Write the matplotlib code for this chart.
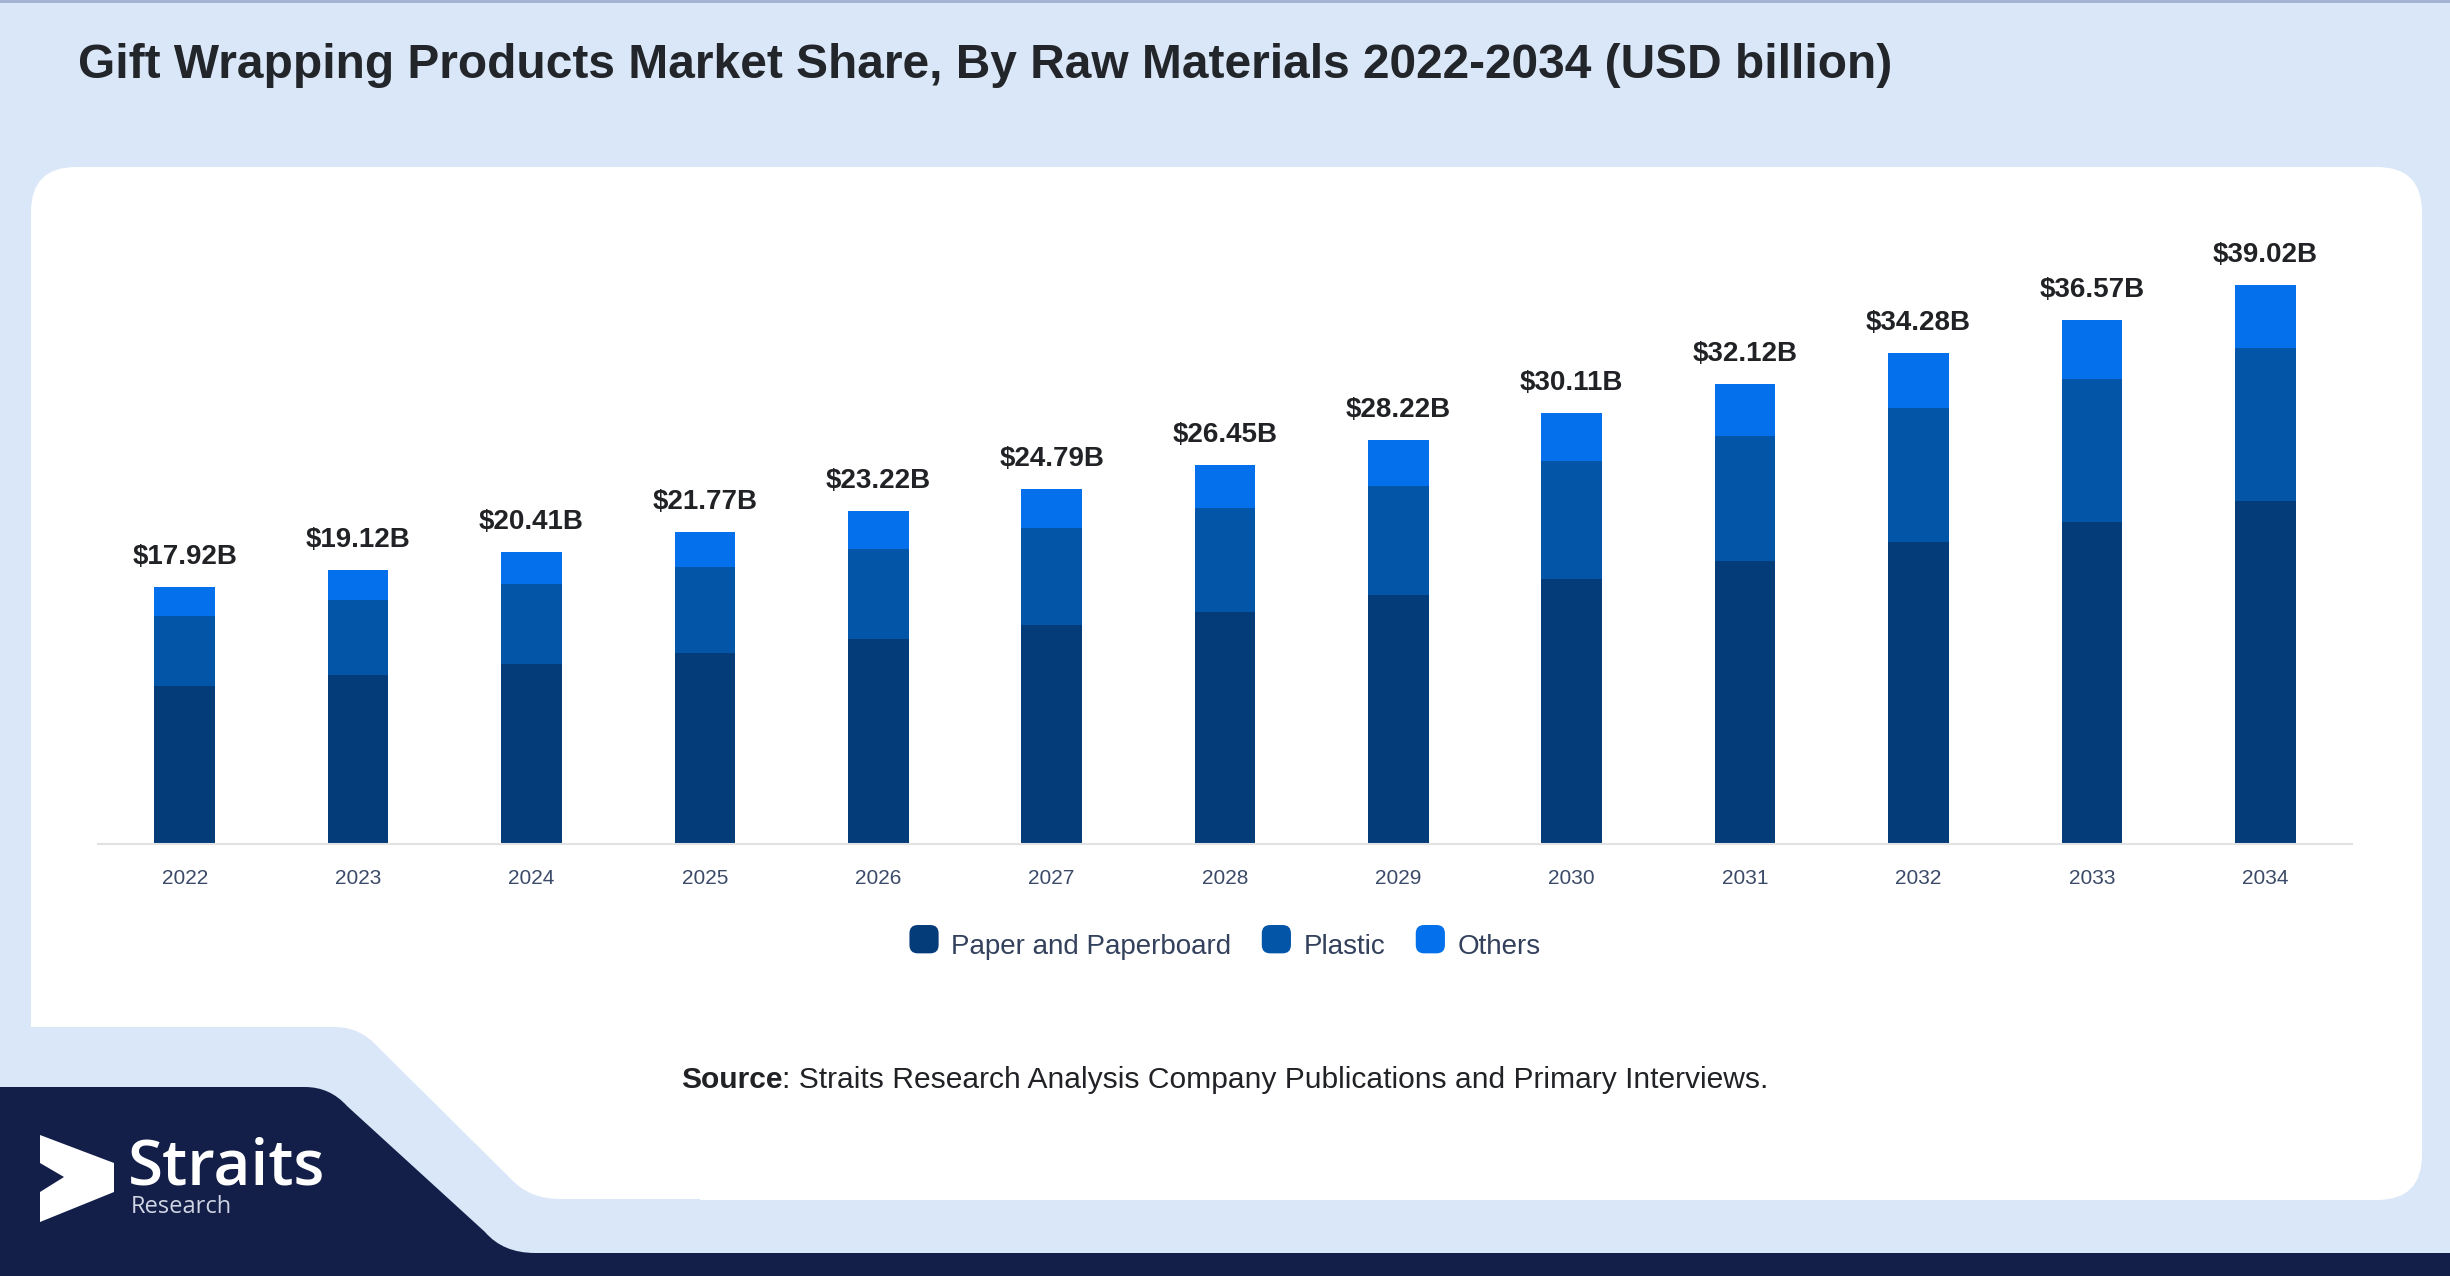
import numpy as np
import matplotlib.pyplot as plt
from matplotlib.patches import FancyBboxPatch, Polygon, PathPatch, Patch
from matplotlib.path import Path
from matplotlib.legend_handler import HandlerPatch

years = ['2022', '2023', '2024', '2025', '2026', '2027', '2028',
         '2029', '2030', '2031', '2032', '2033', '2034']
paper = [11.03, 11.80, 12.57, 13.36, 14.28, 15.25, 16.22,
         17.38, 18.48, 19.78, 21.08, 22.50, 23.94]
plastic = [4.87, 5.20, 5.58, 5.97, 6.32, 6.80, 7.20,
           7.63, 8.25, 8.72, 9.35, 9.94, 10.66]
others = [2.02, 2.12, 2.26, 2.44, 2.62, 2.74, 3.03,
          3.21, 3.38, 3.62, 3.85, 4.13, 4.42]
totals = [17.92, 19.12, 20.41, 21.77, 23.22, 24.79, 26.45,
          28.22, 30.11, 32.12, 34.28, 36.57, 39.02]
series_names = ['Paper and Paperboard', 'Plastic', 'Others']
colors = ['#033c79', '#0355a8', '#0470eb']

W, H = 2450, 1276
BG = '#dae7f8'
NAVY = '#131f48'
plt.rcParams['font.family'] = ['Liberation Sans', 'DejaVu Sans']

fig = plt.figure(figsize=(W / 100, H / 100), dpi=100, facecolor=BG)

# background shapes, in pixel coords
bg = fig.add_axes([0, 0, 1, 1], zorder=-1)
bg.set_xlim(0, W)
bg.set_ylim(H, 0)
bg.axis('off')
bg.plot([0, W], [1, 1], color='#9fb0cf', lw=2)
bg.add_patch(FancyBboxPatch((31, 167), 2391, 1033,
                            boxstyle='round,pad=0,rounding_size=45',
                            fc='white', ec='none'))
cut = Path([(0, 1027), (335, 1027), (360, 1027), (378, 1047),
            (512, 1180), (530, 1199), (560, 1199), (700, 1199),
            (700, 1276), (0, 1276), (0, 1027)],
           [Path.MOVETO, Path.LINETO, Path.CURVE3, Path.CURVE3,
            Path.LINETO, Path.CURVE3, Path.CURVE3, Path.LINETO,
            Path.LINETO, Path.LINETO, Path.CLOSEPOLY])
bg.add_patch(PathPatch(cut, fc=BG, ec='none'))
navy = Path([(0, 1087), (305, 1087), (330, 1087), (347, 1106),
             (485, 1232), (503, 1253), (535, 1253), (W, 1253),
             (W, H), (0, H), (0, 1087)],
            [Path.MOVETO, Path.LINETO, Path.CURVE3, Path.CURVE3,
             Path.LINETO, Path.CURVE3, Path.CURVE3, Path.LINETO,
             Path.LINETO, Path.LINETO, Path.CLOSEPOLY])
bg.add_patch(PathPatch(navy, fc=NAVY, ec='none'))

# logo
bg.add_patch(Polygon([(40, 1135), (114, 1163), (114, 1192), (40, 1222),
                      (40, 1192), (64, 1177), (40, 1163)],
                     closed=True, fc='white', ec='none'))
bg.text(128, 1168, 'Straits', color='white', fontsize=46, fontweight='semibold',
        family='Open Sans', va='center', ha='left')
bg.text(131, 1207, 'Research', color='#cfd5e3', fontsize=17,
        family='Open Sans', va='center', ha='left')

# title
fig.text(78 / W, 1 - 66 / H,
         'Gift Wrapping Products Market Share, By Raw Materials 2022-2034 (USD billion)',
         fontsize=34.5, fontweight='bold', color='#22252a', va='center', ha='left')

# chart
scale = 14.33
ax = fig.add_axes([98 / W, 1 - 844 / H, (2352 - 98) / W, (844 - 200) / H])
ax.set_facecolor('none')
x = np.arange(len(years))
bw = 0.35
bottom = np.zeros(len(years))
for vals, c, name in zip([paper, plastic, others], colors, series_names):
    ax.bar(x, vals, bw, bottom=bottom, color=c, label=name, zorder=2)
    bottom += np.array(vals)

for xi, t in zip(x, totals):
    ax.annotate(f'${t:.2f}B', (xi, t), xytext=(0, 16.5), textcoords='offset points',
                ha='center', va='baseline', fontsize=20, fontweight='bold',
                color='#202225')

ax.set_xlim(-0.5, len(years) - 0.5)
ax.set_ylim(0, (844 - 200) / scale)
ax.set_xticks(x)
ax.set_xticklabels(years)
ax.tick_params(axis='x', length=0, pad=18, labelsize=15, labelcolor='#3b4a68')
ax.set_yticks([])
for s in ['top', 'right', 'left']:
    ax.spines[s].set_visible(False)
ax.spines['bottom'].set_color('#e2e2e2')
ax.spines['bottom'].set_linewidth(1.5)


class RoundBox(HandlerPatch):
    def create_artists(self, legend, orig, xd, yd, w, h, fs, trans):
        p = FancyBboxPatch((xd, yd - 0.1 * h), w, h * 1.1,
                           boxstyle='round,pad=0,rounding_size=6',
                           fc=orig.get_facecolor(), ec='none', transform=trans)
        return [p]


handles = [Patch(color=c, label=n) for c, n in zip(colors, series_names)]
leg = fig.legend(handles=handles, loc='center', bbox_to_anchor=(0.5, 1 - 946 / H),
                 ncol=3, frameon=False, fontsize=20, handlelength=1.05,
                 handleheight=1.05, handletextpad=0.45, columnspacing=1.1,
                 handler_map={Patch: RoundBox()})
for t in leg.get_texts():
    t.set_color('#33415c')

# source line
fig.canvas.draw()
src1 = fig.text(681 / W, 1 - 1080 / H, 'Source', fontsize=21.6, fontweight='bold',
                color='#202225', va='center', ha='left')
ext = src1.get_window_extent(fig.canvas.get_renderer())
fig.text(ext.x1 / W, 1 - 1080 / H,
         ': Straits Research Analysis Company Publications and Primary Interviews.',
         fontsize=21.6, color='#202225', va='center', ha='left')

fig.savefig('out.png', dpi=100, facecolor=BG)
